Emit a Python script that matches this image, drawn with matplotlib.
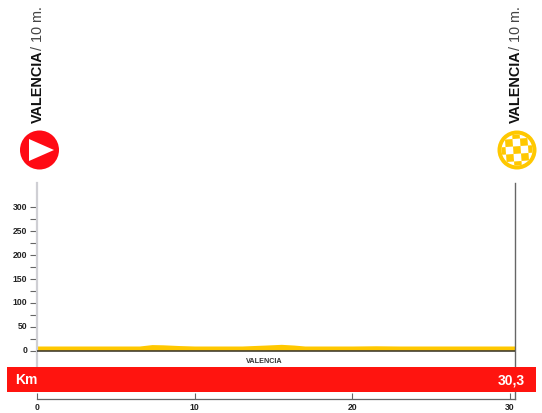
import matplotlib
matplotlib.use('Agg')
import matplotlib.pyplot as plt
from matplotlib.patches import Circle, Polygon, Rectangle
from matplotlib.transforms import Affine2D, ScaledTranslation

plt.rcParams['font.family'] = ['Liberation Sans', 'DejaVu Sans']
NARROW = ['Liberation Sans Narrow', 'Liberation Sans', 'DejaVu Sans']

# profile
km = [0, 3, 6.5, 7.3, 8, 9, 10, 13, 14.5, 15.5, 16.3, 17, 20, 21.5, 23, 24, 27, 30.3]
alt = [10, 10, 10, 13, 12.5, 11, 10, 10, 12, 13.5, 12, 10, 10, 10.5, 10, 10, 10, 10]

alt_ticks = [0, 50, 100, 150, 200, 250, 300]
alt_minor = [25, 75, 125, 175, 225, 275]
km_ticks = [0, 10, 20, 30]
total_km = '30,3'
place = 'VALENCIA'
place_alt = '/ 10 m.'

W, H = 542, 414
fig = plt.figure(figsize=(W / 100, H / 100), dpi=100)

# main axes: x from 37 to 514 px, y from 184 to 400 px
ax = fig.add_axes([37 / W, (H - 400) / H, 477.5 / W, 216 / H])
ax.set_xlim(0, 30.3)
ax.set_ylim(-100.8, 350.8)
ax.patch.set_visible(False)

ax.fill_between(km, alt, 0, color='#FFC800', lw=0, zorder=2)
ax.axhline(0, color='#333333', lw=1.1, zorder=3)

ax.spines['top'].set_visible(False)
ax.spines['left'].set_color('#CFCFD4')
ax.spines['left'].set_linewidth(1.6)
ax.spines['left'].set_bounds(-33, 350.8)
ax.spines['right'].set_color('#666666')
ax.spines['right'].set_linewidth(1.0)
ax.spines['bottom'].set_color('#666666')
ax.spines['bottom'].set_linewidth(0.9)

ax.set_yticks(alt_ticks)
ax.set_yticks(alt_minor, minor=True)
ax.tick_params(axis='y', which='both', length=5, width=0.8, color='#666666', pad=2,
               labelsize=6.2, labelcolor='#222222')
ax.set_xticks(km_ticks)
ax.tick_params(axis='x', length=4, width=0.8, color='#666666', direction='in', pad=2.5,
               labelsize=6.2, labelcolor='#222222')
for t in ax.get_xticklabels() + ax.get_yticklabels():
    t.set_fontweight('bold')
    t.set_family(NARROW)
# labels sit a little above their ticks in the original
up = ScaledTranslation(0, 2 / 100, fig.dpi_scale_trans)
for t in ax.get_yticklabels():
    t.set_transform(t.get_transform() + up)

ax.text(14.43, -20, place, fontsize=5.2, fontweight='bold', family=NARROW, color='#333333',
        ha='center', va='center')

# overlay in pixels for the band and the start / finish signs
ov = fig.add_axes([0, 0, 1, 1])
ov.set_xlim(0, W)
ov.set_ylim(H, 0)
ov.axis('off')
ov.patch.set_visible(False)

ov.add_patch(Rectangle((7, 368), 529, 25, color='#FF140F', lw=0))
ov.text(15.5, 380, 'Km', color='white', fontsize=10, fontweight='bold', va='center', ha='left')
ov.text(524.5, 381, total_km, color='white', fontsize=10, fontweight='bold', va='center', ha='right')

for x in [38, 515.5]:
    ov.text(x, 123, place, rotation=90, fontsize=10.4, fontweight='bold', family=NARROW,
            color='#111111', ha='center', va='bottom')
    ov.text(x, 50, place_alt, rotation=90, fontsize=10.4, family=NARROW, color='#444444',
            ha='center', va='bottom')

# start sign
ov.add_patch(Circle((39.5, 151), 19.5, color='#FF0A14', lw=0))
ov.add_patch(Polygon([[29, 140], [29, 162], [54, 151]], color='white', lw=0))

# finish sign
cx, cy = 517, 151
ov.add_patch(Circle((cx, cy), 19.5, color='#FFC800', lw=0))
disc = Circle((cx, cy), 15.5, color='white', lw=0)
ov.add_patch(disc)
rot = Affine2D().rotate_deg_around(cx, cy, -4) + ov.transData
size = 7.5
for i in range(-3, 4):
    for j in range(-3, 4):
        if (i + j) % 2 == 0:
            r = Rectangle((cx + (i - 0.5) * size, cy + (j - 0.5) * size), size, size,
                          color='#FFC800', lw=0, transform=rot)
            ov.add_patch(r)
            r.set_clip_path(disc)

fig.savefig('out.png', dpi=100)
